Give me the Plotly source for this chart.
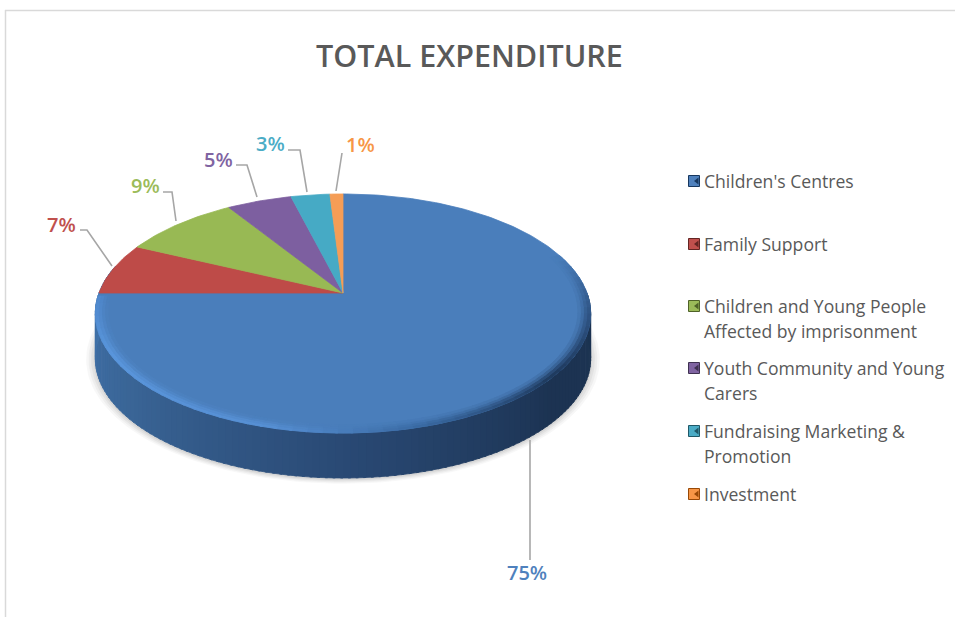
import numpy as np
import plotly.graph_objects as go

# ---- data ----
categories = ["Children's Centres", "Family Support",
              "Children and Young People<br>Affected by imprisonment",
              "Youth Community and Young<br>Carers",
              "Fundraising Marketing &<br>Promotion", "Investment"]
values = [75, 7, 9, 5, 3, 1]
value_labels = ["75%", "7%", "9%", "5%", "3%", "1%"]
title_text = "TOTAL EXPENDITURE"

# ---- styles ----
face_colors = ["#4a7ebb", "#be4b48", "#98b954", "#7d5fa0", "#46aac5", "#f59d56"]
label_colors = ["#4f81bd", "#c0504d", "#9bbb59", "#8064a2", "#4bacc6", "#f79646"]
key_dark = ["#17375e", "#632523", "#4f6228", "#3f3151", "#205867", "#974806"]
text_grey = "#595959"
FONT = "Open Sans"

# ---- projection of the tilted pie onto the 955x617 page ----
CX, CY = 343.0, 293.0
RX = 244.0
K, C = 116.0, 0.1715
DEPTH = 45.0


def project(theta_deg, r=1.0):
    t = np.radians(theta_deg)
    u, v = r * np.sin(t), r * np.cos(t)
    w = 1 + C * v
    return CX + RX * u / w, CY - K * v / w


def to_rgb(hexcol):
    return [int(hexcol[i:i + 2], 16) for i in (1, 3, 5)]


def lerp_rgb(stops, x):
    xs = [s[0] for s in stops]
    cols = [to_rgb(s[1]) for s in stops]
    return [float(np.interp(x, xs, [c[i] for c in cols])) for i in range(3)]


def css(rgb):
    return "rgb(%d,%d,%d)" % tuple(rgb)


def poly(fig, xs, ys, color, opacity=1.0, name=None):
    fig.add_trace(go.Scatter(x=xs, y=ys, mode="lines", fill="toself", fillcolor=color,
                             line=dict(color=color, width=0.8), opacity=opacity,
                             hoverinfo="skip", showlegend=False, name=name))


fig = go.Figure()

# soft shadow under the disc
for grow, op in [(1.035, 0.10), (1.025, 0.14), (1.015, 0.2), (1.005, 0.3)]:
    th = np.linspace(0, 360, 241)
    x, y = project(th)
    my = 313.5
    poly(fig, CX + (x - CX) * grow, my + DEPTH + 1 + (y - my) * grow, "#b8b8b8", op)

# side wall: narrow strips with a left-to-right gradient
side_stops = [(90, "#1c3553"), (130, "#1c3352"), (180, "#2a4a75"), (230, "#3a6596"),
              (270, "#4273ab"), (285, "#4273ab")]
edges = np.arange(90, 285, 1.5)
for a, b in zip(edges[:-1], edges[1:]):
    th = np.linspace(a, b + 0.5, 3)
    x, y = project(th)
    poly(fig, np.r_[x, x[::-1]], np.r_[y, (y + DEPTH)[::-1]], css(lerp_rgb(side_stops, (a + b) / 2)))

# top face slices, clockwise from twelve o'clock
cum = np.cumsum([0] + values) / sum(values) * 360
for i, name in enumerate(categories):
    th = np.linspace(cum[i], cum[i + 1], max(int(cum[i + 1] - cum[i]), 2) + 1)
    x, y = project(th)
    poly(fig, np.r_[CX, x, CX], np.r_[CY, y, CY], face_colors[i], name=name.replace("<br>", " "))

# bevel along the rim of the big slice, fading into the flat face
bevel_stops = [(70, "#4a7ebb"), (100, "#2f5484"), (130, "#1f3a5e"), (165, "#3a6aa3"),
               (195, "#5790d4"), (240, "#5a96dc"), (270, "#4f88cc")]
face = to_rgb(face_colors[0])
edges = np.arange(70, cum[1], 3.0)
rings = [(1.0, 0.985, 0.0), (0.985, 0.972, 0.25), (0.972, 0.96, 0.6), (0.96, 0.95, 0.85)]
for r0, r1, mix in rings:
    for a, b in zip(edges[:-1], edges[1:]):
        th = np.linspace(a, b + 0.5, 3)
        xo, yo = project(th, r0)
        xi, yi = project(th, r1)
        base = lerp_rgb(bevel_stops, (a + b) / 2)
        col = css([v * (1 - mix) + f * mix for v, f in zip(base, face)])
        poly(fig, np.r_[xo, xi[::-1]], np.r_[yo, yi[::-1]], col)

# leader lines
leaders = [[(530, 440), (530, 560)],
           [(80, 230), (87, 230), (112, 266)],
           [(163, 192), (172, 192), (176, 221)],
           [(236, 165), (247, 165), (257, 197)],
           [(288, 150), (300, 150), (307, 192)],
           [(342, 153), (336, 191)]]
for pts in leaders:
    fig.add_trace(go.Scatter(x=[p[0] for p in pts], y=[p[1] for p in pts], mode="lines",
                             line=dict(color="#a6a6a6", width=1.6), hoverinfo="skip", showlegend=False))

# data labels
label_pos = [(527, 572), (61, 224), (145, 185), (218, 159), (270, 143), (360, 144)]
for (lx, ly), t, c in zip(label_pos, value_labels, label_colors):
    fig.add_annotation(x=lx, y=ly, text=t, showarrow=False, xanchor="center", yanchor="middle",
                       font=dict(family=FONT, size=20, color=c, weight=600))

# legend
legend_y = [181, 244, 306, 368, 431, 494]
LINE_PITCH = 25
for y0, name, c, d in zip(legend_y, categories, label_colors, key_dark):
    fig.add_trace(go.Scatter(x=[694], y=[y0], mode="markers", hoverinfo="skip", showlegend=False,
                             marker=dict(symbol="square", size=11, color=c, line=dict(color=d, width=1))))
    fig.add_trace(go.Scatter(x=[697], y=[y0], mode="markers", hoverinfo="skip", showlegend=False,
                             marker=dict(symbol="triangle-left", size=6, color=d)))
    for j, part in enumerate(name.split("<br>")):
        fig.add_annotation(x=702, y=y0 + j * LINE_PITCH, text=part, showarrow=False, xanchor="left",
                           yanchor="middle", align="left",
                           font=dict(family=FONT, size=17.6, color=text_grey))

# title
fig.add_annotation(x=469, y=55, text=title_text, showarrow=False, xanchor="center", yanchor="middle",
                   font=dict(family=FONT, size=30.5, color=text_grey, weight=600))

# frame at the top and left
fig.add_shape(type="line", x0=5, x1=955, y0=10.5, y1=10.5, line=dict(color="#d9d9d9", width=1.5))
fig.add_shape(type="line", x0=5.5, x1=5.5, y0=10, y1=617, line=dict(color="#d9d9d9", width=1.5))

fig.update_xaxes(range=[0, 955], visible=False, fixedrange=True)
fig.update_yaxes(range=[617, 0], visible=False, fixedrange=True)
fig.update_layout(width=955, height=617, margin=dict(l=0, r=0, t=0, b=0),
                  paper_bgcolor="white", plot_bgcolor="white", showlegend=False)
fig.write_html("out.html", config={"displayModeBar": False},
               post_script="document.body.style.margin='0';document.body.style.overflow='hidden';")
